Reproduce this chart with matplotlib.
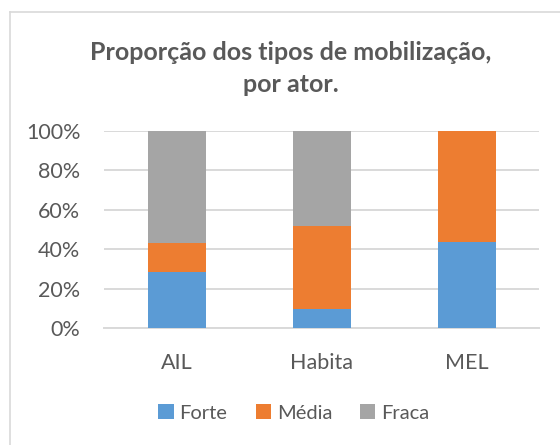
import matplotlib
matplotlib.use("Agg")
import matplotlib.pyplot as plt
from matplotlib.lines import Line2D
from matplotlib.patches import Patch
import numpy as np

categories = ["AIL", "Habita", "MEL"]
forte = [28.6, 9.4, 43.75]
media = [14.3, 42.4, 56.25]
fraca = [57.1, 48.2, 0.0]
series_names = ["Forte", "Média", "Fraca"]
colors = ["#5B9BD5", "#ED7D31", "#A5A5A5"]
yticks = [0, 20, 40, 60, 80, 100]

plt.rcParams['font.family'] = ['Lato', 'DejaVu Sans']
text_color = "#595959"

fig = plt.figure(figsize=(5.6, 4.45), dpi=100)
ax = fig.add_axes([104/560, 1-328/445, (539-104)/560, (328-131)/445])

x = np.arange(len(categories))
data = [forte, media, fraca]
bottom = np.zeros(len(categories))
for vals, col, name in zip(data, colors, series_names):
    ax.bar(x, vals, width=0.4, bottom=bottom, color=col, label=name, zorder=3)
    bottom += np.array(vals)

ax.set_xlim(-0.5, 2.5)
ax.set_ylim(0, 100)
ax.set_yticks(yticks)
ax.set_yticklabels([f"{v}%" for v in yticks])
ax.set_xticks(x)
ax.set_xticklabels(categories)
ax.tick_params(axis='both', length=0, colors=text_color, labelsize=15.5)
ax.tick_params(axis='y', pad=17)
ax.tick_params(axis='x', pad=18)
ax.grid(axis='y', color="#D9D9D9", linewidth=1.4, zorder=0)
for s in ['top', 'right', 'left']:
    ax.spines[s].set_visible(False)
ax.spines['bottom'].set_color("#D9D9D9")
ax.spines['bottom'].set_linewidth(1.4)

fig.text(291/560, 1-52/445, "Proporção dos tipos de mobilização,", ha='center', va='center',
         fontsize=18, fontweight='bold', color=text_color)
fig.text(291/560, 1-84/445, "por ator.", ha='center', va='center',
         fontsize=18, fontweight='bold', color=text_color)

handles = [Patch(facecolor=c, edgecolor='none') for c in colors]
fig.legend(handles, series_names, loc='center', bbox_to_anchor=(294/560, 1-413/445),
           ncol=3, frameon=False, fontsize=14.5, handlelength=0.75, handleheight=0.75,
           handletextpad=0.3, columnspacing=1.4, labelcolor=text_color)

# chart area border
fig.add_artist(Line2D([10/560, 10/560], [0, 1-12/445], transform=fig.transFigure,
                      color="#D9D9D9", linewidth=1.2))
fig.add_artist(Line2D([10/560, 1], [1-12/445, 1-12/445], transform=fig.transFigure,
                      color="#D9D9D9", linewidth=1.2))

fig.savefig("out.png", dpi=100)
